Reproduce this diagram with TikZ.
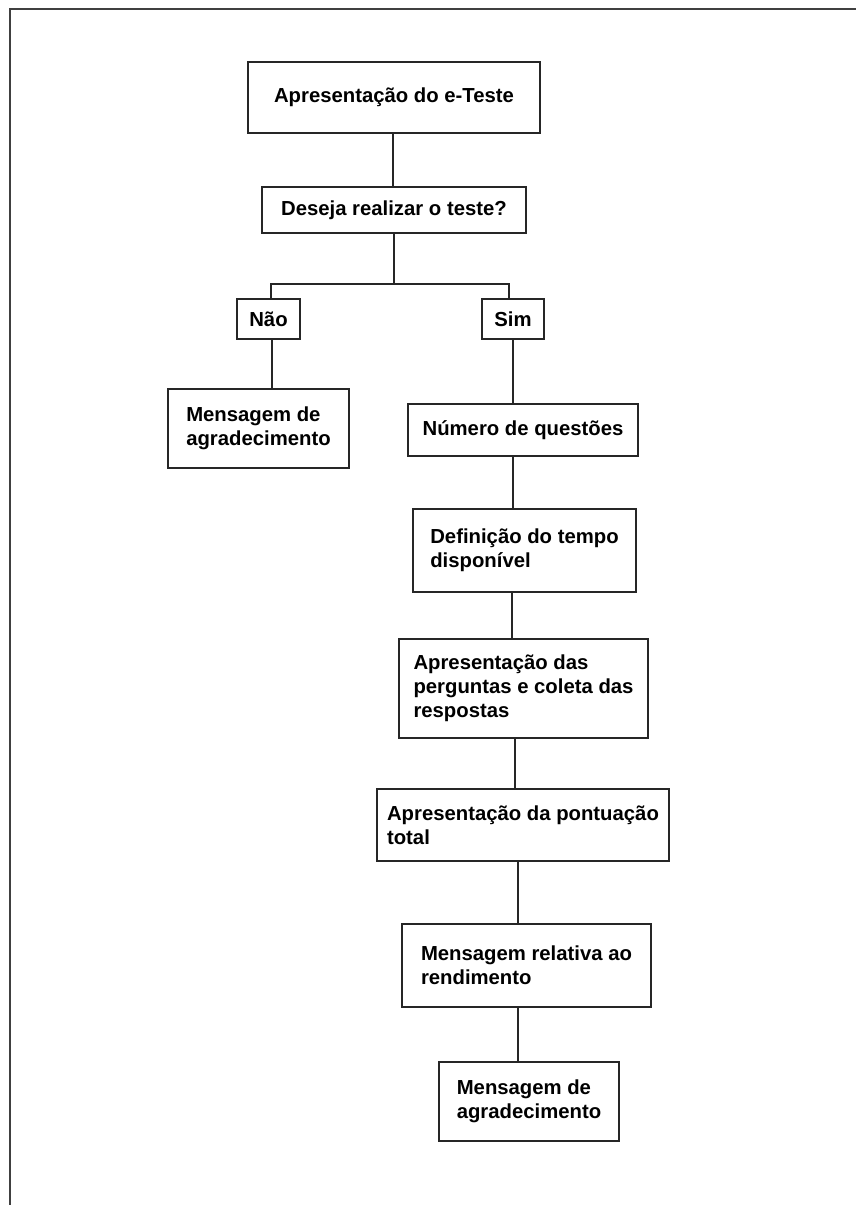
\documentclass[tikz,border=0pt]{standalone}
\usepackage{fontspec}
\setmainfont{Liberation Sans}
\begin{document}
\begin{tikzpicture}[x=1pt,y=-1pt,
  box/.style={draw=black!85, line width=1.3pt, align=left, inner sep=0pt,
    font=\bfseries\fontsize{20.3}{24}\selectfont},
  conn/.style={draw=black!85, line width=1.3pt}]
\useasboundingbox (0,0) rectangle (856,1205);
\draw[draw=black!75, line width=2pt] (9.5,1205) -- (9.5,8.5) -- (856,8.5);
\node[box, minimum width=292pt, minimum height=71pt] (b1) at (394,97.5) {Apresentação do e-Teste};
\node[box, minimum width=264pt, minimum height=46pt] (b2) at (394,210) {Deseja realizar o teste?};
\node[box, minimum width=63pt, minimum height=40pt] (nao) at (268.5,319) {Não};
\node[box, minimum width=62pt, minimum height=40pt] (sim) at (513,319) {Sim};
\node[box, minimum width=181pt, minimum height=79pt] (m1) at (258.5,428.5) {Mensagem de\\agradecimento};
\node[box, minimum width=230pt, minimum height=52pt] (b6) at (523,430) {Número de questões};
\node[box, minimum width=223pt, minimum height=83pt] (b7) at (524.5,550.5) {Definição do tempo\\disponível};
\node[box, minimum width=249pt, minimum height=99pt] (b8) at (523.5,688.5) {Apresentação das\\perguntas e coleta das\\respostas};
\node[box, minimum width=292pt, minimum height=72pt] (b9) at (523,825) {Apresentação da pontuação\\total};
\node[box, minimum width=249pt, minimum height=83pt] (b10) at (526.5,965.5) {Mensagem relativa ao\\rendimento};
\node[box, minimum width=180pt, minimum height=79pt] (m2) at (529,1101.5) {Mensagem de\\agradecimento};
\coordinate (bus) at (394,284);
\draw[conn] ([xshift=-1pt]b1.south) -- ([xshift=-1pt]b1.south |- b2.north);
\draw[conn] (b2.south) -- (b2.south |- bus);
\draw[conn] ([xshift=2.5pt]nao.north) |- (bus) -| ([xshift=-4pt]sim.north);
\draw[conn] ([xshift=3.5pt]nao.south) -- ([xshift=3.5pt]nao.south |- m1.north);
\draw[conn] (sim.south) -- (sim.south |- b6.north);
\draw[conn] ([xshift=-10pt]b6.south) -- ([xshift=-10pt]b6.south |- b7.north);
\draw[conn] ([xshift=-12.5pt]b7.south) -- ([xshift=-12.5pt]b7.south |- b8.north);
\draw[conn] ([xshift=-8.5pt]b8.south) -- ([xshift=-8.5pt]b8.south |- b9.north);
\draw[conn] ([xshift=-5pt]b9.south) -- ([xshift=-5pt]b9.south |- b10.north);
\draw[conn] ([xshift=-8.5pt]b10.south) -- ([xshift=-8.5pt]b10.south |- m2.north);
\end{tikzpicture}
\end{document}
